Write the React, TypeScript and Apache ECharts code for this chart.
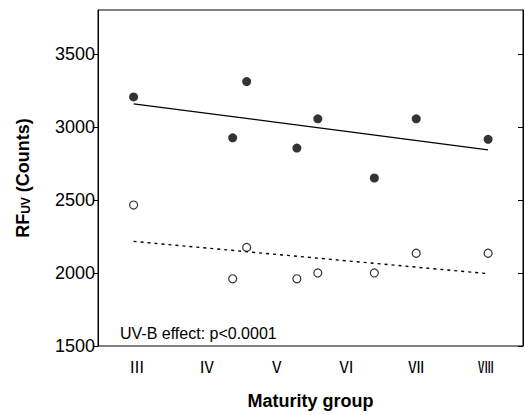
import { useEffect, useRef } from "react";
import * as echarts from "echarts";

const xTickValues = [3, 4, 5, 6, 7, 8];
const xTickLabels = ["Ⅲ", "Ⅳ", "Ⅴ", "Ⅵ", "Ⅶ", "Ⅷ"];
const yTickValues = [1500, 2000, 2500, 3000, 3500];
const groupX = [2.95, 4.37, 4.57, 5.29, 5.59, 6.4, 7.0, 8.03];
const rfFilled = [3205, 2925, 3310, 2855, 3055, 2650, 3055, 2915];
const rfOpen = [2465, 1960, 2175, 1960, 2000, 2000, 2135, 2135];
const fitFilledX = [2.95, 8.03];
const fitFilledY = [3158, 2842];
const fitOpenX = [2.95, 8.03];
const fitOpenY = [2216, 1995];
const annotation = "UV-B effect: p<0.0001";

export default function App() {
  const ref = useRef<HTMLDivElement>(null);
  useEffect(() => {
    document.body.style.margin = "0";
    if (!ref.current) return;
    const chart = echarts.init(ref.current, null, { renderer: "svg" });
    const font = "Liberation Sans, Arial, sans-serif";
    chart.setOption({
      animation: false,
      backgroundColor: "#ffffff",
      textStyle: { fontFamily: font, color: "#000" },
      grid: {
        left: 98,
        top: 10,
        right: 2,
        bottom: 69,
        show: true,
        borderColor: "#000",
        borderWidth: 1,
        backgroundColor: "transparent",
      },
      xAxis: {
        type: "value",
        min: 2.44,
        max: 8.53,
        axisLine: { show: false },
        axisTick: { show: false },
        splitLine: { show: false },
        axisLabel: {
          customValues: xTickValues,
          formatter: (v: number) => xTickLabels[xTickValues.indexOf(Math.round(v))] ?? "",
          fontSize: 16,
          color: "#000",
          margin: 12,
          fontFamily: "Noto Sans CJK JP, Liberation Sans, sans-serif",
        },
        name: "Maturity group",
        nameLocation: "middle",
        nameGap: 46,
        nameTextStyle: { fontSize: 18, fontWeight: "bold", color: "#000", fontFamily: font },
      },
      yAxis: [
        {
          type: "value",
          position: "left",
          min: 1500,
          max: 3800,
          axisLine: { show: true, lineStyle: { color: "#000", width: 1 } },
          axisTick: { show: true, inside: false, length: 5, customValues: yTickValues, lineStyle: { color: "#000" } },
          splitLine: { show: false },
          axisLabel: {
            customValues: yTickValues,
            formatter: (v: number) => String(v),
            fontSize: 18,
            color: "#000",
            margin: 3,
          },
          name: "{a|RF}{b|UV}{a| (Counts)}",
          nameLocation: "middle",
          nameGap: 66,
          nameTextStyle: {
            rich: {
              a: { fontSize: 18, fontWeight: "bold", color: "#000", fontFamily: font, lineHeight: 22, verticalAlign: "bottom" },
              b: { fontSize: 12, fontWeight: "bold", color: "#000", fontFamily: font, lineHeight: 22, verticalAlign: "bottom", padding: [6, 0, 0, 0] },
            },
          },
        },
        {
          type: "value",
          position: "right",
          min: 1500,
          max: 3800,
          axisLine: { show: true, lineStyle: { color: "#000", width: 1 } },
          axisTick: { show: true, inside: true, length: 5, customValues: yTickValues, lineStyle: { color: "#000" } },
          splitLine: { show: false },
          axisLabel: { show: false },
        },
      ],
      graphic: [
        {
          type: "text",
          left: 120,
          top: 325,
          style: { text: annotation, fontSize: 16, fill: "#000", fontFamily: font },
        },
      ],
      series: [
        {
          type: "line",
          data: fitFilledX.map((x, i) => [x, fitFilledY[i]]),
          symbol: "none",
          lineStyle: { color: "#000", width: 1.2 },
          z: 1,
        },
        {
          type: "line",
          data: fitOpenX.map((x, i) => [x, fitOpenY[i]]),
          symbol: "none",
          lineStyle: { color: "#000", width: 1.4, type: [3, 4] },
          z: 1,
        },
        {
          type: "scatter",
          data: groupX.map((x, i) => [x, rfFilled[i]]),
          symbol: "circle",
          symbolSize: 9,
          itemStyle: { color: "#000" },
          z: 3,
        },
        {
          type: "scatter",
          data: groupX.map((x, i) => [x, rfOpen[i]]),
          symbol: "circle",
          symbolSize: 8,
          itemStyle: { color: "#fff", borderColor: "#000", borderWidth: 1.2 },
          z: 3,
        },
      ],
    });
    return () => chart.dispose();
  }, []);
  return <div ref={ref} style={{ width: 525, height: 415 }} />;
}
